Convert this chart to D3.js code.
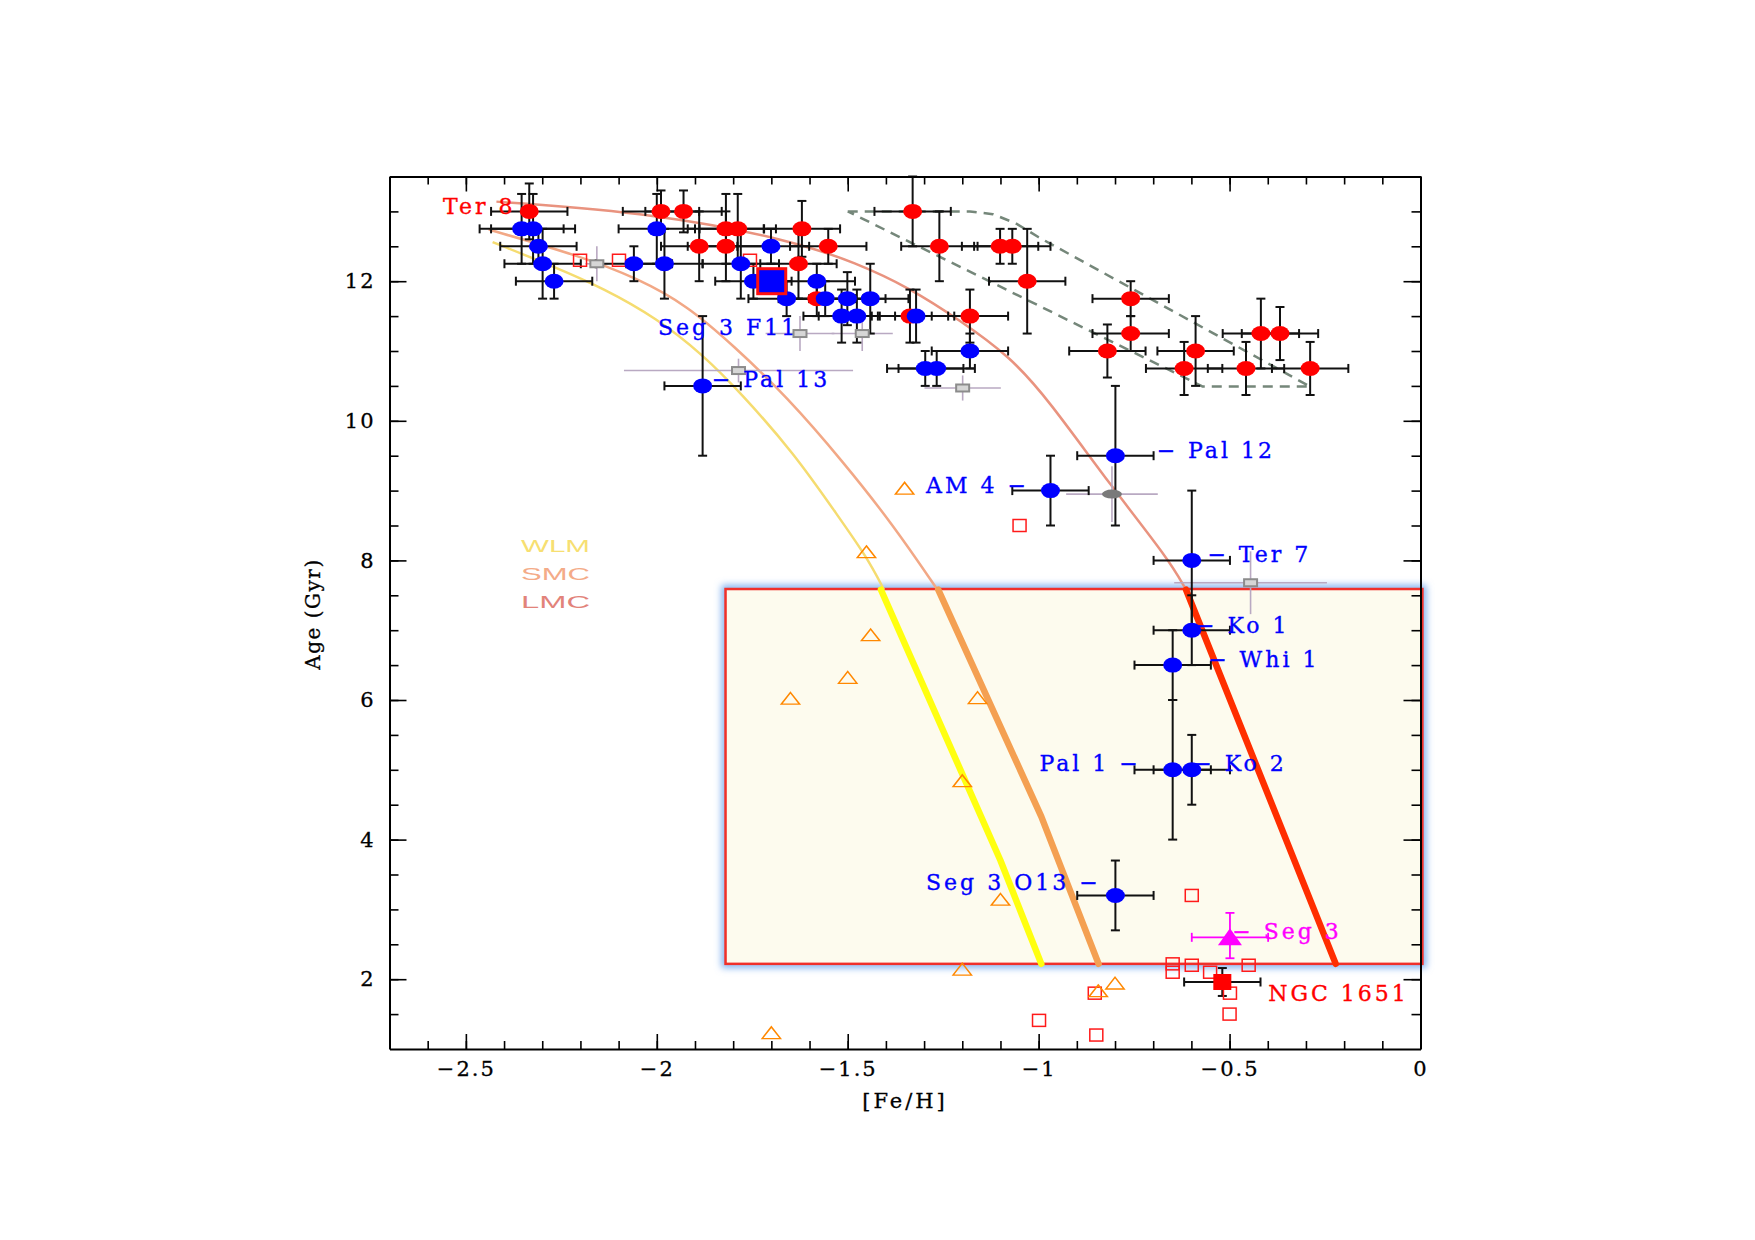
<!DOCTYPE html>
<html>
<head>
<meta charset="utf-8">
<script src="https://cdn.jsdelivr.net/npm/d3@7"></script>
<style>
  body { margin: 0; background: #fff; }
  text { white-space: pre; }
</style>
</head>
<body>
<div id="chart"></div>
<script>
// [Fe/H], age (Gyr), error in [Fe/H], error in age
const redClusters = [
  [-2.334, 13.0, 0.10, 0.40], [-1.989, 13.0, 0.10, 0.30], [-1.930, 13.0, 0.10, 0.30],
  [-1.819, 12.75, 0.10, 0.50], [-1.788, 12.75, 0.10, 0.50], [-1.620, 12.75, 0.10, 0.40],
  [-1.889, 12.5, 0.10, 0.50], [-1.819, 12.5, 0.10, 0.50], [-1.551, 12.5, 0.10, 0.25],
  [-1.629, 12.25, 0.10, 0.50], [-1.581, 11.75, 0.10, 0.25], [-1.330, 13.0, 0.10, 0.50],
  [-1.260, 12.5, 0.10, 0.50], [-1.101, 12.5, 0.10, 0.25], [-1.069, 12.5, 0.10, 0.25],
  [-1.030, 12.0, 0.10, 0.75], [-1.180, 11.5, 0.10, 0.38], [-1.337, 11.5, 0.10, 0.38],
  [-0.759, 11.75, 0.10, 0.25], [-0.759, 11.25, 0.10, 0.25], [-0.820, 11.0, 0.10, 0.38],
  [-0.589, 11.0, 0.10, 0.50], [-0.619, 10.75, 0.10, 0.38], [-0.457, 10.75, 0.10, 0.38],
  [-0.418, 11.25, 0.10, 0.50], [-0.368, 11.25, 0.10, 0.38], [-0.289, 10.75, 0.10, 0.38]
]

const blueClusters = [
  [-2.354, 12.75, 0.11, 0.50], [-2.324, 12.75, 0.11, 0.50], [-2.310, 12.5, 0.10, 0.25],
  [-2.299, 12.25, 0.10, 0.50], [-2.269, 12.0, 0.10, 0.25], [-2.000, 12.75, 0.10, 0.50],
  [-2.060, 12.25, 0.10, 0.25], [-1.980, 12.25, 0.10, 0.50], [-1.780, 12.25, 0.10, 0.50],
  [-1.701, 12.5, 0.10, 0.25], [-1.747, 12.0, 0.10, 0.25], [-1.581, 12.0, 0.10, 0.25],
  [-1.660, 11.75, 0.10, 0.25], [-1.559, 11.75, 0.10, 0.25], [-1.501, 11.75, 0.10, 0.38],
  [-1.441, 11.75, 0.10, 0.50], [-1.516, 11.5, 0.10, 0.38], [-1.476, 11.5, 0.10, 0.38],
  [-1.321, 11.5, 0.10, 0.38], [-1.297, 10.75, 0.10, 0.25], [-1.267, 10.75, 0.10, 0.25],
  [-1.180, 11.0, 0.10, 0.25],
  [-1.880, 10.5, 0.10, 1.00],  // Pal 13
  [-0.799, 9.5, 0.10, 1.00],   // Pal 12
  [-0.969, 9.0, 0.10, 0.50],   // AM 4
  [-0.599, 8.0, 0.10, 1.00],   // Ter 7
  [-0.599, 7.0, 0.10, 0.50],   // Ko 1
  [-0.649, 6.5, 0.10, 0.50],   // Whi 1
  [-0.649, 5.0, 0.10, 1.00],   // Pal 1
  [-0.599, 5.0, 0.10, 0.50],   // Ko 2
  [-0.799, 3.2, 0.10, 0.50]    // Seg 3 O13
]

const seg3F11 = [-1.699, 12.0]

const grayClusters = [
  [-2.157, 12.25, 0.03, 0.25], [-1.625, 11.25, 0.09, 0.25], [-1.462, 11.25, 0.08, 0.25],
  [-1.786, 10.72, 0.30, 0.17], [-1.199, 10.47, 0.10, 0.18], [-0.445, 7.68, 0.20, 0.45]
]
const grayEllipse = [-0.808, 8.95, 0.12, 0.40]

const openSquares = [
  [-2.201, 12.3], [-2.099, 12.3], [-1.756, 12.3], [-1.05, 8.5], [-0.599, 3.2],
  [-0.649, 2.22], [-0.649, 2.10], [-0.599, 2.20], [-0.551, 2.10], [-0.450, 2.20],
  [-0.499, 1.80], [-0.500, 1.50], [-0.853, 1.80], [-0.849, 1.20], [-0.999, 1.41]
]

const openTriangles = [
  [-1.351, 9.02], [-1.451, 8.11], [-1.440, 6.92], [-1.500, 6.31], [-1.650, 6.01],
  [-1.160, 6.02], [-1.200, 4.83], [-1.100, 3.13], [-1.200, 2.13], [-0.844, 1.82],
  [-0.800, 1.93], [-1.700, 1.22]
]

const seg3 = [-0.499, 2.6, 0.10, 0.35, 0.30]
const ngc1651 = [-0.519, 1.96, 0.10, 0.20]

// age-metallicity relations (thin: old part, thick: young part inside the box)
const wlmThin = [[-2.43, 12.56], [-2.27, 12.21], [-2.14, 11.90], [-2.0, 11.47], [-1.88, 10.95],
  [-1.78, 10.40], [-1.64, 9.53], [-1.53, 8.67], [-1.45, 8.05], [-1.405, 7.58]]
const smcThin = [[-2.44, 12.74], [-2.2, 12.36], [-2.05, 12.04], [-1.92, 11.65], [-1.80, 11.08],
  [-1.66, 10.35], [-1.51, 9.40], [-1.38, 8.50], [-1.265, 7.58]]
const lmcThin = [[-2.42, 13.14], [-2.0, 12.97], [-1.65, 12.59], [-1.476, 12.26], [-1.337, 11.90],
  [-1.206, 11.44], [-1.075, 10.92], [-0.977, 10.32], [-0.81, 9.06], [-0.66, 8.02], [-0.614, 7.58]]
const wlmThick = [[-1.413, 7.58], [-1.10, 3.70], [-0.993, 2.22]]
const smcThick = [[-1.263, 7.58], [-0.993, 4.33], [-0.843, 2.22]]
const lmcThick = [[-0.614, 7.58], [-0.222, 2.22]]

const dashedOuter = [[-1.5, 13.0], [-1.18, 13.0], [-1.12, 12.96], [-1.06, 12.83], [-1.0, 12.63], [-0.289, 10.49]]
const dashedInner = [[-0.289, 10.49], [-0.57, 10.49], [-1.5, 13.0]]

const boxFeH = [-1.82, 0.005]
const boxAge = [2.22, 7.59]

const labels = [
  { text: "Ter 8", x: -2.37, y: 13.08, color: "#ff0000", anchor: "end" },
  { text: "Seg 3 F11", x: -1.997, y: 11.34, color: "#0000ff", anchor: "start" },
  { text: "\u2212 Pal 13", x: -1.856, y: 10.6, color: "#0000ff", anchor: "start" },
  { text: "\u2212 Pal 12", x: -0.691, y: 9.58, color: "#0000ff", anchor: "start" },
  { text: "AM 4 \u2212", x: -1.295, y: 9.08, color: "#0000ff", anchor: "start" },
  { text: "\u2212 Ter 7", x: -0.558, y: 8.09, color: "#0000ff", anchor: "start" },
  { text: "\u2212 Ko 1", x: -0.588, y: 7.07, color: "#0000ff", anchor: "start" },
  { text: "\u2212 Whi 1", x: -0.556, y: 6.59, color: "#0000ff", anchor: "start" },
  { text: "Pal 1 \u2212", x: -0.998, y: 5.10, color: "#0000ff", anchor: "start" },
  { text: "\u2212 Ko 2", x: -0.595, y: 5.10, color: "#0000ff", anchor: "start" },
  { text: "Seg 3 O13 \u2212", x: -1.295, y: 3.39, color: "#0000ff", anchor: "start" },
  { text: "\u2212 Seg 3", x: -0.493, y: 2.69, color: "#ff00ff", anchor: "start" },
  { text: "NGC 1651", x: -0.399, y: 1.80, color: "#ff0000", anchor: "start" }
]

const legendNames = ["WLM", "SMC", "LMC"]
const legendColors = ["#f7df72", "#f4ab88", "#e2837a"]

const xMajor = [-2.5, -2, -1.5, -1, -0.5, 0]
const xMinor = d3.range(-27, 1).map(i => i / 10)
const yMajor = [2, 4, 6, 8, 10, 12]
const yMinor = d3.range(3, 27).map(i => i / 2)

const width = 1755
const height = 1240
const serif = "'DejaVu Serif', serif"

const x = d3.scaleLinear().domain([-2.7, 0]).range([389.5, 1420.5])
const y = d3.scaleLinear().domain([1, 13.5]).range([1049, 176.5])

const svg = d3.select("#chart").append("svg")
  .attr("width", width)
  .attr("height", height)
  .style("background", "#fff")

const defs = svg.append("defs")
defs.append("filter").attr("id", "glow").attr("x", "-10%").attr("y", "-10%").attr("width", "120%").attr("height", "120%")
  .append("feGaussianBlur").attr("stdDeviation", 3.5)

// highlighted young region
const bx0 = x(boxFeH[0]), bx1 = x(boxFeH[1]), by0 = y(boxAge[1]), by1 = y(boxAge[0])
svg.append("rect")
  .attr("x", bx0).attr("y", by0).attr("width", bx1 - bx0).attr("height", by1 - by0)
  .attr("fill", "none").attr("stroke", "#7fb0f0").attr("stroke-width", 8)
  .attr("filter", "url(#glow)")
svg.append("rect")
  .attr("x", bx0).attr("y", by0).attr("width", bx1 - bx0).attr("height", by1 - by0)
  .attr("fill", "#fdfbee").attr("stroke", "#f0302a").attr("stroke-width", 2.5)

const line = d3.line().x(d => x(d[0])).y(d => y(d[1]))
const smooth = d3.line().x(d => x(d[0])).y(d => y(d[1])).curve(d3.curveBasis)

// dashed band
svg.append("path")
  .attr("d", line(dashedOuter.concat(dashedInner.slice(1))))
  .attr("fill", "none").attr("stroke", "#75877a").attr("stroke-width", 2.5)
  .attr("stroke-dasharray", "10,7").attr("stroke-linejoin", "round")

// thin relations
const thin = [[wlmThin, "#f5dc70"], [smcThin, "#f2a886"], [lmcThin, "#e9937f"]]
thin.forEach(([pts, c]) => {
  svg.append("path").attr("d", smooth(pts)).attr("fill", "none")
    .attr("stroke", c).attr("stroke-width", 2.5)
})
const thick = [[wlmThick, "#ffff10"], [smcThick, "#f4a052"], [lmcThick, "#ff2e00"]]
thick.forEach(([pts, c]) => {
  svg.append("path").attr("d", line(pts)).attr("fill", "none")
    .attr("stroke", c).attr("stroke-width", 6.5).attr("stroke-linecap", "round").attr("stroke-linejoin", "round")
})

// error bars
function errorBars(g, data, color, width, cap) {
  data.forEach(d => {
    const cx = x(d[0]), cy = y(d[1])
    const xl = x(d[0] - d[2]), xr = x(d[0] + d[2])
    const yt = y(d[1] + d[3]), yb = y(d[1] - (d.length > 4 ? d[4] : d[3]))
    const segs = [
      [xl, cy, xr, cy], [cx, yt, cx, yb],
      [xl, cy - cap, xl, cy + cap], [xr, cy - cap, xr, cy + cap],
      [cx - cap, yt, cx + cap, yt], [cx - cap, yb, cx + cap, yb]
    ]
    if (cap === 0) segs.length = 2
    g.selectAll(null).data(segs).enter().append("line")
      .attr("x1", s => s[0]).attr("y1", s => s[1]).attr("x2", s => s[2]).attr("y2", s => s[3])
      .attr("stroke", color).attr("stroke-width", width)
  })
}

const gFaint = svg.append("g")
errorBars(gFaint, grayClusters, "#b9a9c2", 1.6, 0)
errorBars(gFaint, [grayEllipse], "#b9a9c2", 1.6, 0)

const gErr = svg.append("g")
errorBars(gErr, redClusters, "#111", 2, 4.5)
errorBars(gErr, blueClusters, "#111", 2, 4.5)
errorBars(gErr, [ngc1651], "#111", 2, 4.5)
errorBars(gErr, [seg3], "#ff00ff", 1.8, 4.5)

// gray small squares
svg.append("g").selectAll("rect").data(grayClusters).enter().append("rect")
  .attr("x", d => x(d[0]) - 6.5).attr("y", d => y(d[1]) - 3.5)
  .attr("width", 13).attr("height", 7)
  .attr("fill", "#d6d6d6").attr("stroke", "#8c8c8c").attr("stroke-width", 2)
svg.append("ellipse")
  .attr("cx", x(grayEllipse[0])).attr("cy", y(grayEllipse[1]))
  .attr("rx", 10).attr("ry", 4.5).attr("fill", "#7a7a7a")

// open squares and triangles
svg.append("g").selectAll("rect").data(openSquares).enter().append("rect")
  .attr("x", d => x(d[0]) - 6.5).attr("y", d => y(d[1]) - 6)
  .attr("width", 13).attr("height", 12)
  .attr("fill", "none").attr("stroke", "#ff1a1a").attr("stroke-width", 1.5)

const tri = d3.symbol().type(d3.symbolTriangle).size(110)
svg.append("g").selectAll("path").data(openTriangles).enter().append("path")
  .attr("d", tri)
  .attr("transform", d => `translate(${x(d[0])},${y(d[1]) + 1}) scale(1.15,0.85)`)
  .attr("fill", "none").attr("stroke", "#ff8800").attr("stroke-width", 1.5)

// filled clusters
svg.append("g").selectAll("ellipse").data(redClusters).enter().append("ellipse")
  .attr("cx", d => x(d[0])).attr("cy", d => y(d[1]))
  .attr("rx", 9.5).attr("ry", 7.5).attr("fill", "#ff0000")
svg.append("g").selectAll("ellipse").data(blueClusters).enter().append("ellipse")
  .attr("cx", d => x(d[0])).attr("cy", d => y(d[1]))
  .attr("rx", 9.5).attr("ry", 7.5).attr("fill", "#0000ff")

svg.append("rect")
  .attr("x", x(seg3F11[0]) - 14).attr("y", y(seg3F11[1]) - 12.5)
  .attr("width", 28).attr("height", 25)
  .attr("fill", "#0000ff").attr("stroke", "#ff1010").attr("stroke-width", 3)

svg.append("rect")
  .attr("x", x(ngc1651[0]) - 9).attr("y", y(ngc1651[1]) - 8)
  .attr("width", 18).attr("height", 16).attr("fill", "#ff0000")

svg.append("path")
  .attr("d", "M0,-9L12,8L-12,8Z")
  .attr("transform", `translate(${x(seg3[0])},${y(seg3[1])})`)
  .attr("fill", "#ff00ff")

// cluster labels
svg.append("g").selectAll("text").data(labels).enter().append("text")
  .attr("x", d => x(d.x)).attr("y", d => y(d.y))
  .attr("dy", "0.36em")
  .attr("text-anchor", d => d.anchor)
  .attr("fill", d => d.color)
  .attr("stroke", d => d.color).attr("stroke-width", 0.35)
  .style("font-family", serif).style("font-size", "22px").style("letter-spacing", "3px")
  .text(d => d.text)

// legend for relations
svg.append("g").selectAll("text").data(legendNames).enter().append("text")
  .attr("x", 521).attr("y", (d, i) => 552 + i * 28)
  .attr("fill", (d, i) => legendColors[i])
  .attr("textLength", 69).attr("lengthAdjust", "spacingAndGlyphs")
  .style("font-family", "'Liberation Sans', Arial, sans-serif").style("font-size", "17px")
  .text(d => d)

// axes
const fmt = d => d === 0 ? "0" : (d < 0 ? "\u2212" + Math.abs(d) : String(d))

function styleAxis(g) {
  g.selectAll("line").attr("stroke", "#000").attr("stroke-width", 1.6)
  g.selectAll("path.domain").attr("stroke", "#000").attr("stroke-width", 2)
  g.selectAll("text").attr("fill", "#000").attr("stroke", "#000").attr("stroke-width", 0.3)
    .style("font-family", serif).style("font-size", "21px").style("letter-spacing", "2px")
}

const axisBottomG = svg.append("g").attr("transform", `translate(0,${y(1)})`)
axisBottomG.call(d3.axisBottom(x).tickValues(xMajor).tickSize(-15).tickSizeOuter(0).tickPadding(12).tickFormat(fmt))
axisBottomG.append("g").call(d3.axisBottom(x).tickValues(xMinor).tickSize(-8).tickFormat(""))
  .call(g => g.select(".domain").remove())
styleAxis(axisBottomG)

const axisTopG = svg.append("g").attr("transform", `translate(0,${y(13.5)})`)
axisTopG.call(d3.axisTop(x).tickValues(xMajor).tickSize(-15).tickSizeOuter(0).tickFormat(""))
axisTopG.append("g").call(d3.axisTop(x).tickValues(xMinor).tickSize(-8).tickFormat(""))
  .call(g => g.select(".domain").remove())
styleAxis(axisTopG)

const axisLeftG = svg.append("g").attr("transform", `translate(${x(-2.7)},0)`)
axisLeftG.call(d3.axisLeft(y).tickValues(yMajor).tickSize(-17).tickSizeOuter(0).tickPadding(14).tickFormat(fmt))
axisLeftG.append("g").call(d3.axisLeft(y).tickValues(yMinor).tickSize(-9).tickFormat(""))
  .call(g => g.select(".domain").remove())
styleAxis(axisLeftG)

const axisRightG = svg.append("g").attr("transform", `translate(${x(0)},0)`)
axisRightG.call(d3.axisRight(y).tickValues(yMajor).tickSize(-17).tickSizeOuter(0).tickFormat(""))
axisRightG.append("g").call(d3.axisRight(y).tickValues(yMinor).tickSize(-9).tickFormat(""))
  .call(g => g.select(".domain").remove())
styleAxis(axisRightG)

// axis titles
svg.append("text")
  .attr("x", 905).attr("y", 1108)
  .attr("text-anchor", "middle")
  .attr("stroke", "#000").attr("stroke-width", 0.3)
  .style("font-family", serif).style("font-size", "21px").style("letter-spacing", "3px")
  .text("[Fe/H]")

svg.append("text")
  .attr("transform", "translate(320,614) rotate(-90)")
  .attr("text-anchor", "middle")
  .attr("stroke", "#000").attr("stroke-width", 0.3)
  .style("font-family", serif).style("font-size", "20px").style("letter-spacing", "1.5px")
  .text("Age (Gyr)")
</script>
</body>
</html>
